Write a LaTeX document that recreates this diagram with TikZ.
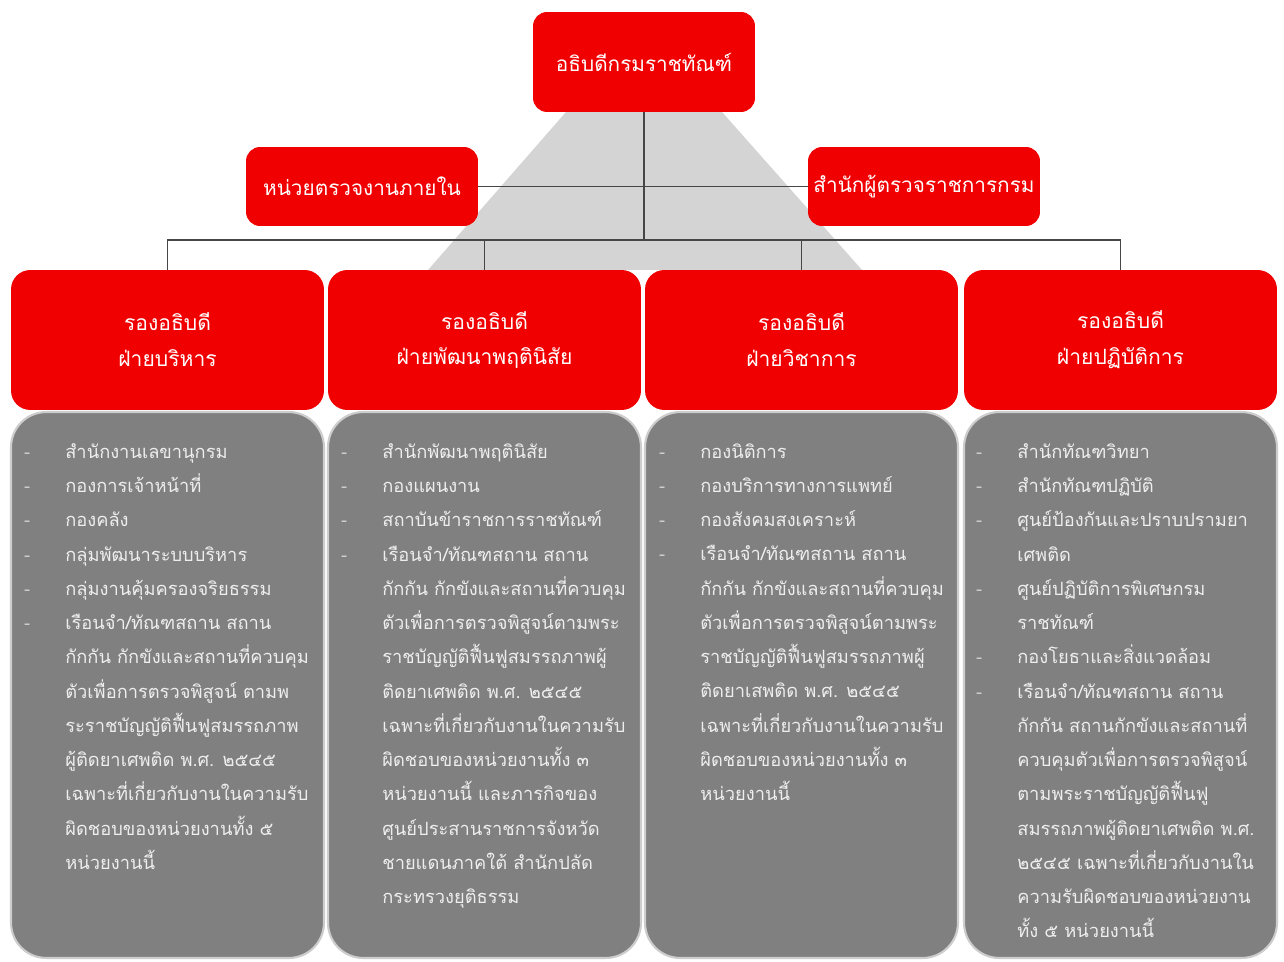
\documentclass[tikz,border=0pt]{standalone}
\usepackage{fontspec}
\newfontfamily\thaifont[Script=Thai]{Loma}
\usepackage{color}
\definecolor{boxred}{RGB}{240,0,0}
\definecolor{boxgray}{RGB}{128,128,128}
\definecolor{edgegray}{RGB}{205,205,205}
\definecolor{fangray}{RGB}{212,212,212}
\definecolor{textgray}{RGB}{238,238,238}
\definecolor{linegray}{RGB}{70,70,70}
\newcommand{\dl}{\llap{\textcolor{edgegray}{-}\hspace{20pt}}}
\newcommand{\dn}[1]{\raisebox{-2.8pt}{#1}}

\begin{document}
\begin{tikzpicture}[x=0.02cm,y=-0.02cm,
  topbox/.style={fill=boxred, rounded corners=8pt, text=white, align=center, inner sep=0pt, font=\thaifont\fontsize{11.8}{20}\selectfont},
  redbox/.style={fill=boxred, rounded corners=11pt, text=white, align=center, inner sep=0pt, minimum width=6.26cm, minimum height=2.8cm, font=\thaifont\fontsize{12}{20.4}\selectfont},
  graybox/.style={draw=edgegray, line width=1.2pt, fill=boxgray, rounded corners=20pt, minimum width=6.26cm, minimum height=10.92cm},
  itemtext/.style={anchor=north west, align=left, inner sep=0pt, text=textgray, font=\thaifont\fontsize{10.4}{19.5}\selectfont}]
\useasboundingbox (0,0) rectangle (1284,962);
\fill[white] (0,0) rectangle (1284,962);
% grey fan under the top box
\fill[fangray] (566,112) -- (722,112) -- (862,270) -- (428,270) -- cycle;

\node (0) at (644,62) [topbox, minimum width=4.44cm, minimum height=2cm] {\dn{อธิบดีกรมราชทัณฑ์}};
\node (1) at (362,186.5) [topbox, minimum width=4.64cm, minimum height=1.58cm] {หน่วยตรวจงานภายใน};
\node (2) at (924,186.5) [topbox, minimum width=4.64cm, minimum height=1.58cm] {สำนักผู้ตรวจราชการกรม};

\node (3) at (167.5,340) [redbox] {\dn{รองอธิบดี}\\\dn{ฝ่ายบริหาร}};
\node (4) at (484.5,340) [redbox] {\dn{รองอธิบดี}\\\dn{ฝ่ายพัฒนาพฤตินิสัย}};
\node (5) at (801.5,340) [redbox] {\dn{รองอธิบดี}\\\dn{ฝ่ายวิชาการ}};
\node (6) at (1120.5,340) [redbox] {\dn{รองอธิบดี}\\\dn{ฝ่ายปฏิบัติการ}};

\node (7) at (167.5,685) [graybox] {};
\node (8) at (484.5,685) [graybox] {};
\node (9) at (801.5,685) [graybox] {};
\node (10) at (1120.5,685) [graybox] {};

\coordinate (b) at (644,240);
\draw[linegray, line width=0.8pt]
(0) to (b)
(1) to (2)
(3.north) |- (b)
(4.north) |- (b)
(5.north) |- (b)
(6.north) |- (b);

\node (11) at (65,443) [itemtext] {\dl สำนักงานเลขานุกรม\\
\dl กองการเจ้าหน้าที่\\
\dl กองคลัง\\
\dl กลุ่มพัฒนาระบบบริหาร\\
\dl กลุ่มงานคุ้มครองจริยธรรม\\
\dl เรือนจำ/ทัณฑสถาน สถาน\\
กักกัน กักขังและสถานที่ควบคุม\\
ตัวเพื่อการตรวจพิสูจน์ ตามพ\\
ระราชบัญญัติฟื้นฟูสมรรถภาพ\\
ผู้ติดยาเศพติด พ.ศ. ๒๕๔๕\\
เฉพาะที่เกี่ยวกับงานในความรับ\\
ผิดชอบของหน่วยงานทั้ง ๕\\
หน่วยงานนี้};

\node (12) at (382,443) [itemtext] {\dl สำนักพัฒนาพฤตินิสัย\\
\dl กองแผนงาน\\
\dl สถาบันข้าราชการราชทัณฑ์\\
\dl เรือนจำ/ทัณฑสถาน สถาน\\
กักกัน กักขังและสถานที่ควบคุม\\
ตัวเพื่อการตรวจพิสูจน์ตามพระ\\
ราชบัญญัติฟื้นฟูสมรรถภาพผู้\\
ติดยาเศพติด พ.ศ. ๒๕๔๕\\
เฉพาะที่เกี่ยวกับงานในความรับ\\
ผิดชอบของหน่วยงานทั้ง ๓\\
หน่วยงานนี้ และภารกิจของ\\
ศูนย์ประสานราชการจังหวัด\\
ชายแดนภาคใต้ สำนักปลัด\\
กระทรวงยุติธรรม};

\node (13) at (700,443) [itemtext] {\dl กองนิติการ\\
\dl กองบริการทางการแพทย์\\
\dl กองสังคมสงเคราะห์\\
\dl เรือนจำ/ทัณฑสถาน สถาน\\
กักกัน กักขังและสถานที่ควบคุม\\
ตัวเพื่อการตรวจพิสูจน์ตามพระ\\
ราชบัญญัติฟื้นฟูสมรรถภาพผู้\\
ติดยาเสพติด พ.ศ. ๒๕๔๕\\
เฉพาะที่เกี่ยวกับงานในความรับ\\
ผิดชอบของหน่วยงานทั้ง ๓\\
หน่วยงานนี้};

\node (14) at (1017,443) [itemtext] {\dl สำนักทัณฑวิทยา\\
\dl สำนักทัณฑปฏิบัติ\\
\dl ศูนย์ป้องกันและปราบปรามยา\\
เศพติด\\
\dl ศูนย์ปฏิบัติการพิเศษกรม\\
ราชทัณฑ์\\
\dl กองโยธาและสิ่งแวดล้อม\\
\dl เรือนจำ/ทัณฑสถาน สถาน\\
กักกัน สถานกักขังและสถานที่\\
ควบคุมตัวเพื่อการตรวจพิสูจน์\\
ตามพระราชบัญญัติฟื้นฟู\\
สมรรถภาพผู้ติดยาเศพติด พ.ศ.\\
๒๕๔๕ เฉพาะที่เกี่ยวกับงานใน\\
ความรับผิดชอบของหน่วยงาน\\
ทั้ง ๕ หน่วยงานนี้};
\end{tikzpicture}
\end{document}
